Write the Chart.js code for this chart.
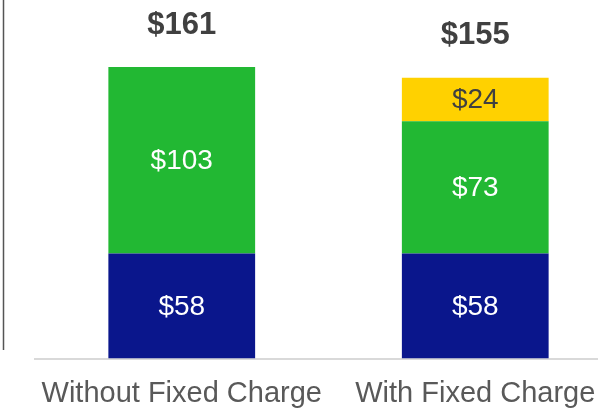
<!DOCTYPE html>
<html><head><meta charset="utf-8">
<script src="https://cdn.jsdelivr.net/npm/chart.js@4"></script>
<style>
html,body{margin:0;padding:0;background:#fff;overflow:hidden;width:598px;height:413px}
#wrap{position:absolute;left:0;top:0;width:622px;height:413px}
</style></head><body>
<div id="wrap"><canvas id="c" width="622" height="413"></canvas></div>
<script>
const categories = ["Without Fixed Charge", "With Fixed Charge"];
const baseValues = [58, 58];
const energyValues = [103, 73];
const fixedValues = [0, 24];
const totals = [161, 155];

const FONT = '"Liberation Sans", Arial, sans-serif';

const labelPlugin = {
  id: 'labels',
  afterDatasetsDraw(chart) {
    const ctx = chart.ctx;
    ctx.save();
    ctx.textAlign = 'center';
    ctx.textBaseline = 'middle';
    chart.data.datasets.forEach((ds, di) => {
      const meta = chart.getDatasetMeta(di);
      meta.data.forEach((bar, i) => {
        const v = ds.data[i];
        if (!v) return;
        const y = (bar.y + bar.base) / 2;
        ctx.fillStyle = ds.labelColor;
        ctx.font = '28px ' + FONT;
        ctx.fillText('$' + v, bar.x, y + 1);
      });
    });
    const last = chart.getDatasetMeta(chart.data.datasets.length - 1);
    ctx.font = 'bold 31px ' + FONT;
    ctx.fillStyle = '#404040';
    totals.forEach((t, i) => {
      const x = last.data[i].x;
      const y = chart.scales.y.getPixelForValue(t);
      ctx.fillText('$' + t, x, y - 42);
    });
    // left vertical rule
    ctx.strokeStyle = '#555555';
    ctx.lineWidth = 1.5;
    ctx.beginPath();
    ctx.moveTo(3.5, 0);
    ctx.lineTo(3.5, 350);
    ctx.stroke();
    ctx.restore();
  }
};

new Chart(document.getElementById('c'), {
  type: 'bar',
  data: {
    labels: categories,
    datasets: [
      { label: 'Base', data: baseValues, backgroundColor: '#0A168C', labelColor: '#ffffff' },
      { label: 'Energy', data: energyValues, backgroundColor: '#22B833', labelColor: '#ffffff' },
      { label: 'Fixed', data: fixedValues, backgroundColor: '#FFD100', labelColor: '#404040' }
    ]
  },
  options: {
    responsive: false,
    animation: false,
    layout: { padding: { left: 35, right: 0, top: 0, bottom: 0 } },
    plugins: { legend: { display: false }, tooltip: { enabled: false } },
    datasets: { bar: { barPercentage: 1, categoryPercentage: 0.5, borderWidth: 0 } },
    scales: {
      x: {
        stacked: true,
        grid: { display: false, drawTicks: false },
        border: { display: true, color: '#d9d9d9', width: 2 },
        ticks: { color: '#595959', padding: 18, maxRotation: 0, autoSkip: false, font: { size: 29, family: FONT } },
        afterFit(scale) { scale.height = 54.5; }
      },
      y: {
        stacked: true,
        display: false,
        min: 0,
        max: 198
      }
    }
  },
  plugins: [labelPlugin]
});
</script>
</body></html>
